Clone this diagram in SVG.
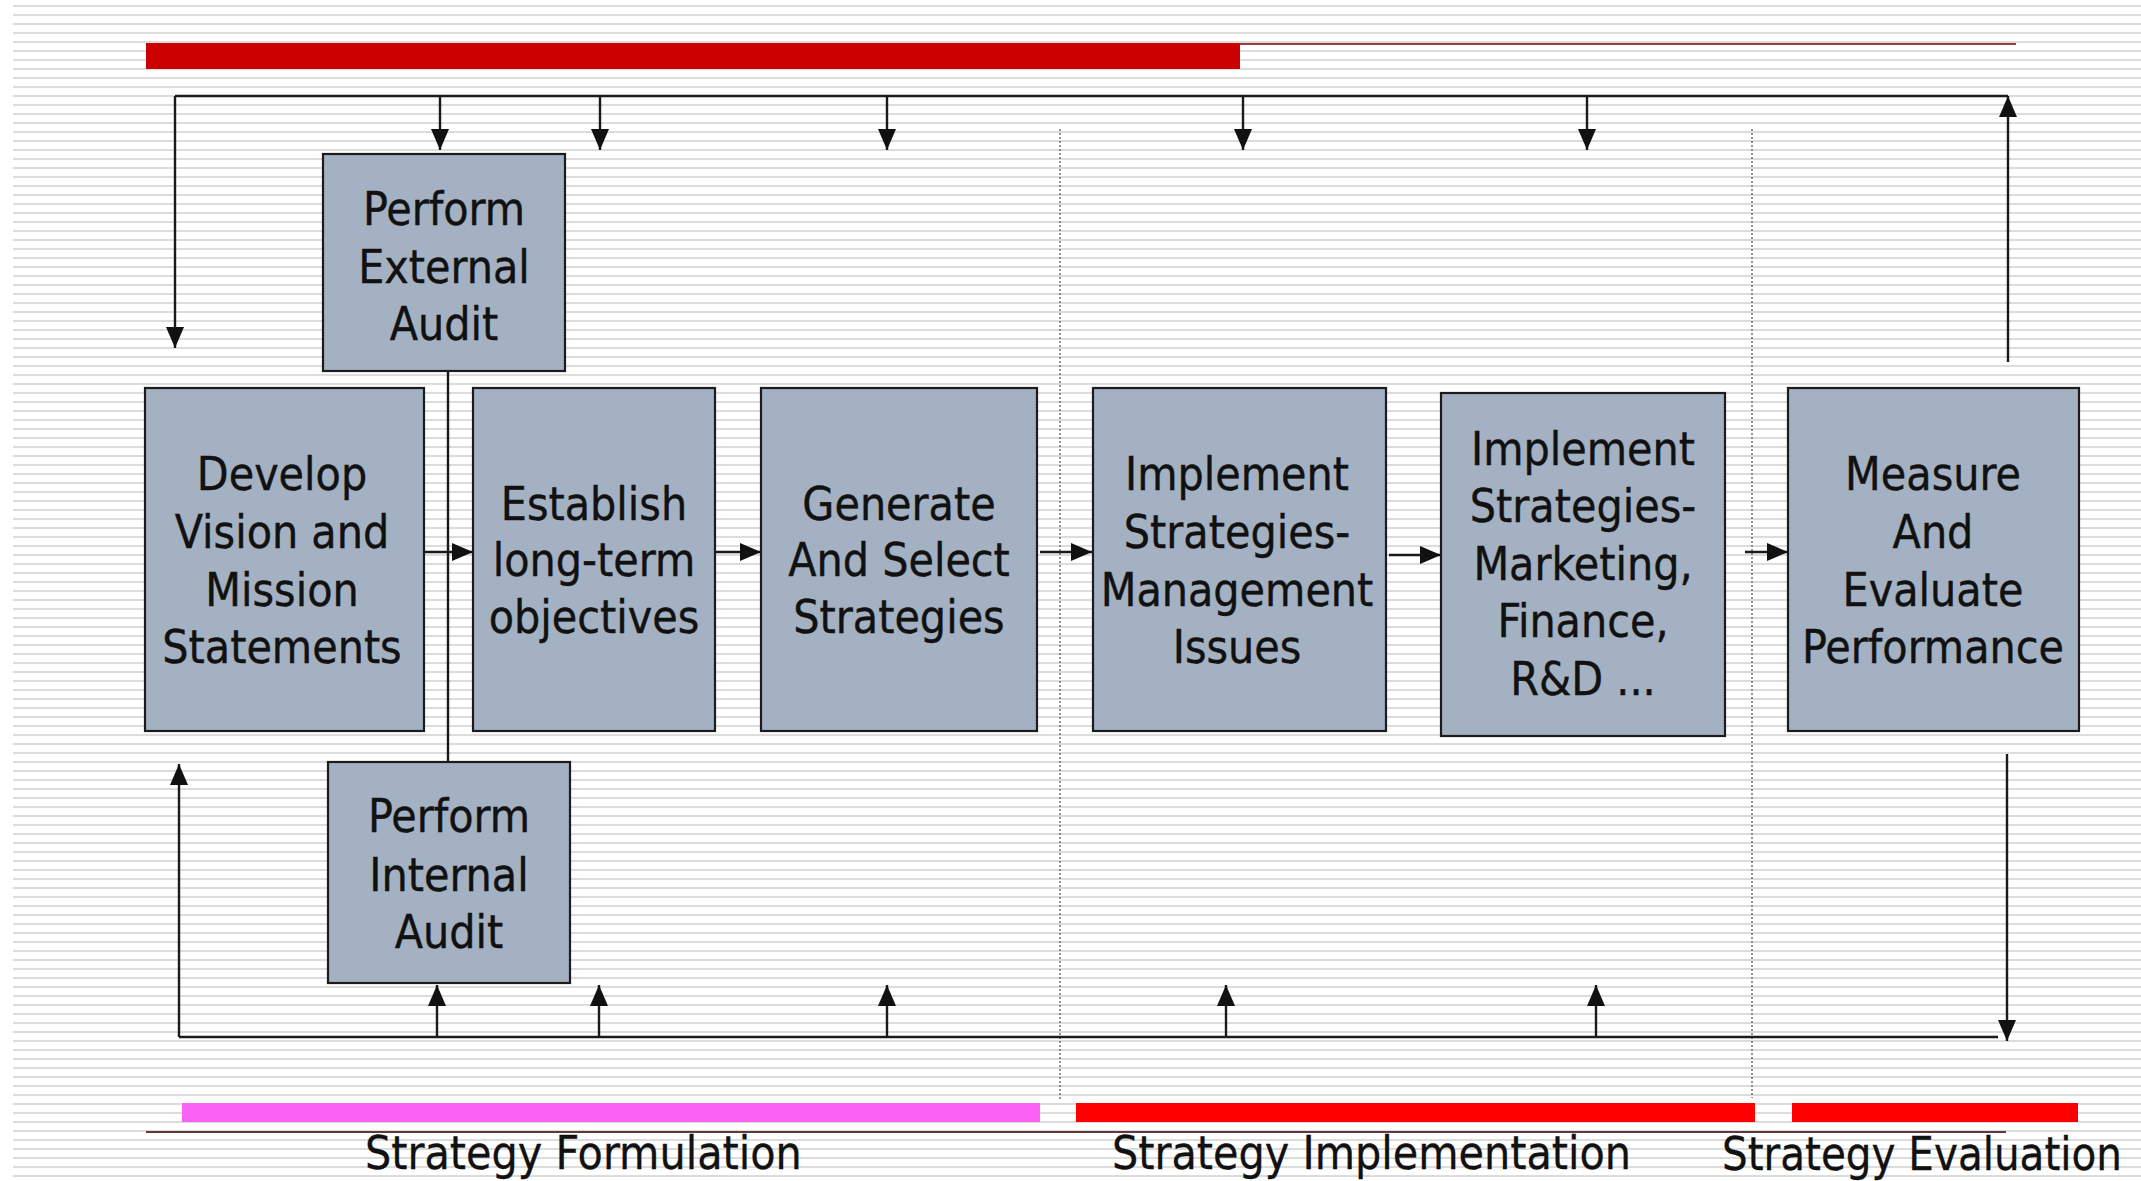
<svg xmlns="http://www.w3.org/2000/svg" width="2141" height="1181" viewBox="0 0 2141 1181">
<style>
.box{fill:#A3B1C2;stroke:#1c1c1c;stroke-width:2.2}
.t{font-family:'DejaVu Sans Condensed','DejaVu Sans',sans-serif;font-stretch:condensed;font-size:46px;fill:#111;text-anchor:middle;stroke:#111;stroke-width:0.4}
.lbl{font-family:'DejaVu Sans Condensed','DejaVu Sans',sans-serif;font-stretch:condensed;font-size:46px;fill:#111;stroke:#111;stroke-width:0.3}
.c{fill:none;stroke:#1a1a1a;stroke-width:2.4}
.ca{fill:none;stroke:#1a1a1a;stroke-width:2.4;marker-end:url(#ah)}
.dot{fill:none;stroke:#7a7a7a;stroke-width:1.6;stroke-dasharray:2 2}
</style>
<defs>
<pattern id="stripes" patternUnits="userSpaceOnUse" x="0" y="0" width="40" height="9">
<rect x="0" y="5" width="40" height="2" fill="#dcdcdc"/>
</pattern>
<marker id="ah" markerUnits="userSpaceOnUse" markerWidth="22" markerHeight="19" refX="21" refY="9" orient="auto">
<path d="M0,0 L21,9 L0,18 z" fill="#111"/>
</marker>
</defs>
<rect x="0" y="0" width="2141" height="1181" fill="#ffffff"/>
<rect x="13" y="0" width="2128" height="1181" fill="url(#stripes)"/>

<g id="bars">
<line x1="146" y1="44" x2="2016" y2="44" stroke="#9a3c3c" stroke-width="2"/>
<rect x="146" y="43" width="1094" height="26" fill="#CC0000"/>
<rect x="182" y="1103" width="858" height="19" fill="#F962F5"/>
<rect x="1076" y="1103" width="679" height="19" fill="#FF0000"/>
<rect x="1792" y="1103" width="286" height="19" fill="#FF0000"/>
<line x1="146" y1="1132" x2="2006" y2="1132" stroke="#5e3a3a" stroke-width="2"/>
</g>

<g id="dividers">
<line class="dot" x1="1060" y1="129" x2="1060" y2="1100"/>
<line class="dot" x1="1752" y1="129" x2="1752" y2="1098"/>
</g>

<g id="connectors">
<path class="c" d="M175,96 H2008"/>
<path class="ca" d="M175,96 V348"/>
<path class="ca" d="M440,96 V150"/>
<path class="ca" d="M600,96 V150"/>
<path class="ca" d="M887,96 V150"/>
<path class="ca" d="M1243,96 V150"/>
<path class="ca" d="M1587,96 V150"/>
<path class="ca" d="M2008,362 V96"/>
<path class="c" d="M179,1037 H1998"/>
<path class="ca" d="M179,1037 V764"/>
<path class="ca" d="M437,1037 V985"/>
<path class="ca" d="M599,1037 V985"/>
<path class="ca" d="M887,1037 V985"/>
<path class="ca" d="M1226,1037 V985"/>
<path class="ca" d="M1596,1037 V985"/>
<path class="ca" d="M2007,754 V1041"/>
<path class="c" d="M448,371 V762"/>
<path class="ca" d="M424,552 H473"/>
<path class="ca" d="M715,552 H761"/>
<path class="ca" d="M1040,552 H1092"/>
<path class="ca" d="M1389,555 H1441"/>
<path class="ca" d="M1745,552 H1788"/>
</g>

<g id="external-audit">
<rect class="box" x="323" y="154" width="242" height="217"/>
<text class="t" x="444" y="225">Perform</text>
<text class="t" x="444" y="283">External</text>
<text class="t" x="444" y="340">Audit</text>
</g>

<g id="develop-vision">
<rect class="box" x="145" y="388" width="279" height="343"/>
<text class="t" x="282" y="490">Develop</text>
<text class="t" x="282" y="548">Vision and</text>
<text class="t" x="282" y="606">Mission</text>
<text class="t" x="282" y="663">Statements</text>
</g>

<g id="establish-objectives">
<rect class="box" x="473" y="388" width="242" height="343"/>
<text class="t" x="594" y="520">Establish</text>
<text class="t" x="594" y="576">long-term</text>
<text class="t" x="594" y="633">objectives</text>
</g>

<g id="generate-strategies">
<rect class="box" x="761" y="388" width="276" height="343"/>
<text class="t" x="899" y="520">Generate</text>
<text class="t" x="899" y="576">And Select</text>
<text class="t" x="899" y="633">Strategies</text>
</g>

<g id="implement-management">
<rect class="box" x="1093" y="388" width="293" height="343"/>
<text class="t" x="1237" y="490">Implement</text>
<text class="t" x="1237" y="548">Strategies-</text>
<text class="t" x="1237" y="606">Management</text>
<text class="t" x="1237" y="663">Issues</text>
</g>

<g id="implement-marketing">
<rect class="box" x="1441" y="393" width="284" height="343"/>
<text class="t" x="1583" y="465">Implement</text>
<text class="t" x="1583" y="522">Strategies-</text>
<text class="t" x="1583" y="580">Marketing,</text>
<text class="t" x="1583" y="637">Finance,</text>
<text class="t" x="1583" y="695">R&amp;D ...</text>
</g>

<g id="measure-performance">
<rect class="box" x="1788" y="388" width="291" height="343"/>
<text class="t" x="1933" y="490">Measure</text>
<text class="t" x="1933" y="548">And</text>
<text class="t" x="1933" y="606">Evaluate</text>
<text class="t" x="1933" y="663">Performance</text>
</g>

<g id="internal-audit">
<rect class="box" x="328" y="762" width="242" height="221"/>
<text class="t" x="449" y="832">Perform</text>
<text class="t" x="449" y="891">Internal</text>
<text class="t" x="449" y="948">Audit</text>
</g>

<g id="phase-labels">
<text class="lbl" x="365" y="1169">Strategy Formulation</text>
<text class="lbl" x="1112" y="1169">Strategy Implementation</text>
<text class="lbl" x="1722" y="1170" textLength="400" lengthAdjust="spacingAndGlyphs">Strategy Evaluation</text>
</g>
</svg>
